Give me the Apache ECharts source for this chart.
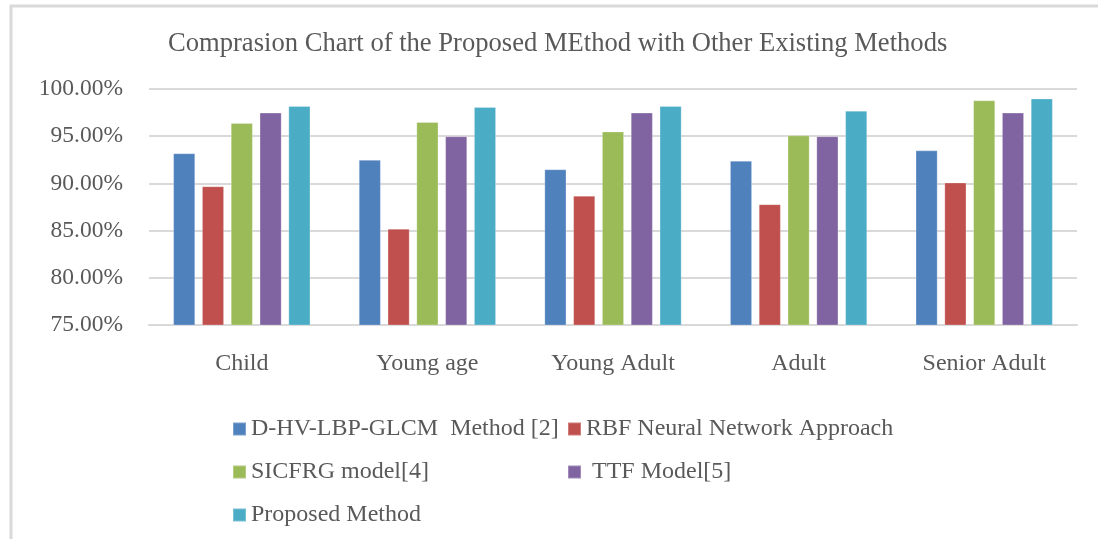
<!DOCTYPE html>
<html>
<head>
<meta charset="utf-8">
<script src="https://cdn.jsdelivr.net/npm/echarts@6/dist/echarts.min.js"></script>
<style>
html,body{margin:0;padding:0;background:#fff;}
#chart{width:1098px;height:539px;}
</style>
</head>
<body>
<div id="chart"></div>
<script>
var titleText = 'Comprasion Chart of the Proposed MEthod with Other Existing Methods';
var categories = ['Child', 'Young age', 'Young Adult', 'Adult', 'Senior Adult'];
var seriesNames = ['D-HV-LBP-GLCM  Method [2]', 'RBF Neural Network Approach', 'SICFRG model[4]', 'TTF Model[5]', 'Proposed Method'];
var dhvValues = [93.2, 92.5, 91.5, 92.4, 93.5];
var rbfValues = [89.7, 85.2, 88.7, 87.8, 90.1];
var sicfrgValues = [96.4, 96.5, 95.5, 95.1, 98.8];
var ttfValues = [97.5, 95.0, 97.5, 95.0, 97.5];
var proposedValues = [98.2, 98.1, 98.2, 97.7, 99.0];
var yTicks = [75, 80, 85, 90, 95, 100];
var colors = ['#4F81BD', '#C0504D', '#9BBB59', '#8064A2', '#4BACC6'];

var allValues = [dhvValues, rbfValues, sicfrgValues, ttfValues, proposedValues];
var FONT = "'Liberation Serif', 'Times New Roman', serif";
var TXT = '#595959';

var chart = echarts.init(document.getElementById('chart'), null, {renderer: 'canvas'});

var legendPos = [
  {left: 232, top: 417},
  {left: 567, top: 417},
  {left: 232, top: 460},
  {left: 567, top: 460},
  {left: 232, top: 503}
];

var legends = seriesNames.map(function (n, i) {
  return {
    data: [n],
    left: legendPos[i].left,
    top: legendPos[i].top,
    padding: 0,
    icon: 'rect',
    itemWidth: 13,
    itemHeight: 13,
    itemGap: 0,
    formatter: i === 3 ? function (name) { return ' ' + name; } : '{name}',
    textStyle: {fontFamily: FONT, fontSize: 24, color: TXT, lineHeight: 24}
  };
});

var series = seriesNames.map(function (n, i) {
  return {
    name: n,
    type: 'bar',
    data: allValues[i],
    barGap: '30%',
    barCategoryGap: '26%',
    itemStyle: {color: colors[i], borderColor: 'rgba(255,255,255,0.25)', borderWidth: 1},
    emphasis: {disabled: true}
  };
});

chart.setOption({
  animation: false,
  color: colors,
  title: {
    text: titleText,
    left: 168,
    top: 31,
    padding: 0,
    textStyle: {fontFamily: FONT, fontSize: 26.6, fontWeight: 'normal', color: TXT}
  },
  legend: legends,
  grid: {left: 149, right: 21, top: 89, bottom: 214, containLabel: false},
  xAxis: {
    type: 'category',
    data: categories,
    axisTick: {show: false},
    axisLine: {show: true, lineStyle: {color: '#D9D9D9', width: 2}},
    axisLabel: {fontFamily: FONT, fontSize: 24, color: TXT, margin: 27}
  },
  yAxis: {
    type: 'value',
    min: yTicks[0],
    max: yTicks[yTicks.length - 1],
    interval: 5,
    axisLine: {show: false},
    axisTick: {show: false},
    splitLine: {lineStyle: {color: '#D9D9D9', width: 2}},
    axisLabel: {
      fontFamily: FONT, fontSize: 23.5, color: TXT, margin: 26,
      formatter: function (v) { return v.toFixed(2) + '%'; }
    }
  },
  graphic: [{
    type: 'rect',
    shape: {x: 11, y: 6, width: 1200, height: 700},
    style: {fill: 'none', stroke: '#D9D9D9', lineWidth: 3},
    silent: true
  }],
  series: series
});
</script>
</body>
</html>
